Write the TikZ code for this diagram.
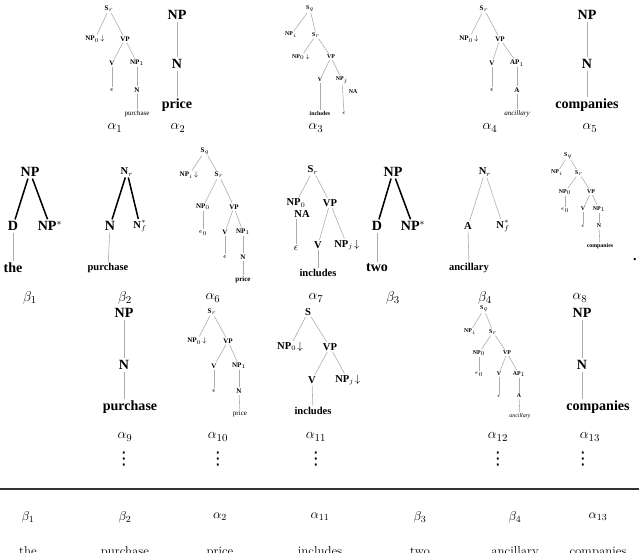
\documentclass[tikz,border=0pt]{standalone}
\usepackage{amsmath, amssymb}
\usepackage{fontspec}
\newfontfamily\tmfont{Liberation Serif}
\newfontfamily\symfont{DejaVu Sans}
\usepackage{tikz}
\usetikzlibrary{positioning, calc}

\begin{document}
\begin{tikzpicture}[
    x=0.03cm, y=-0.03cm,
    big/.style={font=\tmfont\bfseries\fontsize{12}{13}\selectfont, inner sep=1.5pt},
    mid/.style={font=\tmfont\bfseries\fontsize{9}{10}\selectfont, inner sep=1pt},
    sml/.style={font=\tmfont\bfseries\fontsize{6}{7}\selectfont, inner sep=1pt},
    tny/.style={font=\tmfont\bfseries\fontsize{5}{6}\selectfont, inner sep=0.8pt},
    smlw/.style={font=\tmfont\fontsize{6}{7}\selectfont, inner sep=1pt},
    tnyw/.style={font=\tmfont\fontsize{5}{6}\selectfont, inner sep=0.8pt},
    tag/.style={font=\fontsize{13}{15}\selectfont, inner sep=1pt},
    more/.style={font=\symfont\fontsize{15}{15}\selectfont, inner sep=0pt},
    low/.style={font=\fontsize{11}{13}\selectfont, inner sep=1pt},
    branch/.style={draw=gray!65, line width=0.5pt},
    stem/.style={draw=black, line width=1.3pt},
    rule/.style={draw=black!80, line width=1.2pt}
  ]
    \useasboundingbox (0,0) rectangle (639,552);
    \clip (0,0) rectangle (639,552);

    % Row 1: alpha_1 .. alpha_5
    \node[sml] (a1s) at (109,9) {S$_r$};
    \node[sml] (a1np) at (95,39) {NP$_0\!\downarrow$};
    \node[sml] (a1vp) at (125,39) {VP};
    \node[sml] (a1v) at (112,63) {V};
    \node[sml] (a1np1) at (137,63) {NP$_1$};
    \node[smlw] (a1e) at (112,90) {$\epsilon$};
    \node[sml] (a1n) at (137,90) {N};
    \node[smlw] (a1w) at (137,114) {purchase};
    \node[tag] (a1t) at (115,128) {$\alpha_1$};

    \node[big] (a2np) at (177,15) {NP};
    \node[big] (a2n) at (177,64) {N};
    \node[big] (a2w) at (177,105) {price};
    \node[tag] (a2t) at (178,128) {$\alpha_2$};

    \node[tny] (a3s) at (310,9) {S$_q$};
    \node[tny] (a3npi) at (291,35) {NP$_i$};
    \node[tny] (a3sr) at (316,35) {S$_r$};
    \node[tny] (a3np0) at (301,57) {NP$_0\!\downarrow$};
    \node[tny] (a3vp) at (331,57) {VP};
    \node[tny] (a3v) at (320,80) {V};
    \node[tny] (a3npj) at (342,80) {NP$_j$};
    \node[tny] (a3na) at (353,92) {NA};
    \node[tny] (a3w) at (320,113) {includes};
    \node[tnyw] (a3e) at (344,113) {$\epsilon$};
    \node[tag] (a3t) at (316,128) {$\alpha_3$};

    \node[sml] (a4s) at (484,9) {S$_r$};
    \node[sml] (a4np) at (469,39) {NP$_0\!\downarrow$};
    \node[sml] (a4vp) at (500,39) {VP};
    \node[sml] (a4v) at (492,63) {V};
    \node[sml] (a4ap) at (517,63) {AP$_1$};
    \node[smlw] (a4e) at (492,90) {$\epsilon$};
    \node[sml] (a4a) at (517,90) {A};
    \node[smlw] (a4w) at (517,114) {\itshape ancillary};
    \node[tag] (a4t) at (490,128) {$\alpha_4$};

    \node[big] (a5np) at (587,15) {NP};
    \node[big] (a5n) at (587,64) {N};
    \node[big] (a5w) at (587,105) {companies};
    \node[tag] (a5t) at (590,128) {$\alpha_5$};

    % Row 2: beta_1, beta_2, alpha_6, alpha_7, beta_3, beta_4, alpha_8
    \node[big] (b1np) at (30,172) {NP};
    \node[big] (b1d) at (13,226) {D};
    \node[big] (b1f) at (50,226) {NP$^*$};
    \node[big] (b1w) at (13,268) {the};
    \node[tag] (b1t) at (30,298) {$\beta_1$};

    \node[mid] (b2n) at (127,172) {N$_r$};
    \node[big] (b2a) at (110,226) {N};
    \node[mid] (b2f) at (140,226) {N$_f^*$};
    \node[mid] (b2w) at (108,268) {purchase};
    \node[tag] (b2t) at (125,298) {$\beta_2$};

    \node[sml] (a6s) at (205,151) {S$_q$};
    \node[sml] (a6npi) at (189,175) {NP$_i\!\downarrow$};
    \node[sml] (a6sr) at (219,175) {S$_r$};
    \node[sml] (a6np0) at (203,207) {NP$_0$};
    \node[sml] (a6vp) at (234,207) {VP};
    \node[smlw] (a6e0) at (203,233) {$\epsilon_0$};
    \node[sml] (a6v) at (225,232) {V};
    \node[sml] (a6np1) at (243,232) {NP$_1$};
    \node[smlw] (a6e) at (225,257) {$\epsilon$};
    \node[sml] (a6n) at (243,257) {N};
    \node[sml] (a6w) at (243,280) {price};
    \node[tag] (a6t) at (213,298) {$\alpha_6$};

    \node[mid] (a7s) at (313,170) {S$_r$};
    \node[mid] (a7np) at (296,203) {NP$_0$};
    \node[mid] (a7na) at (302,214) {NA};
    \node[mid] (a7vp) at (330,203) {VP};
    \node[font=\fontsize{9}{10}\selectfont, inner sep=1pt] (a7e) at (296,248) {$\epsilon$};
    \node[mid] (a7v) at (318,245) {V};
    \node[mid] (a7npj) at (347,245) {NP$_j\!\downarrow$};
    \node[mid] (a7w) at (318,273) {includes};
    \node[tag] (a7t) at (316,298) {$\alpha_7$};

    \node[big] (b3np) at (393,172) {NP};
    \node[big] (b3d) at (377,226) {D};
    \node[big] (b3f) at (413,226) {NP$^*$};
    \node[big] (b3w) at (377,268) {two};
    \node[tag] (b3t) at (393,298) {$\beta_3$};

    \node[mid] (b4n) at (485,172) {N$_r$};
    \node[mid] (b4a) at (468,226) {A};
    \node[mid] (b4f) at (503,226) {N$_f^*$};
    \node[mid] (b4w) at (469,268) {ancillary};
    \node[tag] (b4t) at (485,298) {$\beta_4$};

    \node[tny] (a8s) at (568,156) {S$_q$};
    \node[tny] (a8npi) at (557,173) {NP$_i$};
    \node[tny] (a8sr) at (579,173) {S$_r$};
    \node[tny] (a8np0) at (565,192) {NP$_0$};
    \node[tny] (a8vp) at (591,192) {VP};
    \node[tnyw] (a8e0) at (565,210) {$\epsilon_0$};
    \node[tny] (a8v) at (583,209) {V};
    \node[tny] (a8np1) at (599,209) {NP$_1$};
    \node[tnyw] (a8e) at (583,226) {$\epsilon$};
    \node[tny] (a8n) at (599,226) {N};
    \node[tny] (a8w) at (600,246) {companies};
    \node[big] (a8dot) at (635,260) {.};
    \node[tag] (a8t) at (580,298) {$\alpha_8$};

    % Row 3: alpha_9 .. alpha_13
    \node[big] (a9np) at (124,313) {NP};
    \node[big] (a9n) at (124,365) {N};
    \node[big] (a9w) at (130,407) {purchase};
    \node[tag] (a9t) at (125,437) {$\alpha_9$};
    \node[more] (a9d) at (124,459) {⋮};

    \node[sml] (a10s) at (212,312) {S$_r$};
    \node[sml] (a10np) at (197,341) {NP$_0\!\downarrow$};
    \node[sml] (a10vp) at (228,341) {VP};
    \node[sml] (a10v) at (214,366) {V};
    \node[sml] (a10np1) at (239,366) {NP$_1$};
    \node[smlw] (a10e) at (214,391) {$\epsilon$};
    \node[sml] (a10n) at (239,391) {N};
    \node[smlw] (a10w) at (240,414) {price};
    \node[tag] (a10t) at (218,437) {$\alpha_{10}$};
    \node[more] (a10d) at (218,459) {⋮};

    \node[mid] (a11s) at (308,312) {S};
    \node[mid] (a11np) at (290,347) {NP$_0\!\downarrow$};
    \node[mid] (a11vp) at (330,347) {VP};
    \node[mid] (a11v) at (312,380) {V};
    \node[mid] (a11npj) at (348,380) {NP$_j\!\downarrow$};
    \node[mid] (a11w) at (313,411) {includes};
    \node[tag] (a11t) at (316,437) {$\alpha_{11}$};
    \node[more] (a11d) at (316,459) {⋮};

    \node[tny] (a12s) at (484,309) {S$_q$};
    \node[tny] (a12npi) at (470,332) {NP$_i$};
    \node[tny] (a12sr) at (493,332) {S$_r$};
    \node[tny] (a12np0) at (479,353) {NP$_0$};
    \node[tny] (a12vp) at (507,353) {VP};
    \node[tnyw] (a12e0) at (479,374) {$\epsilon_0$};
    \node[tny] (a12v) at (499,374) {V};
    \node[tny] (a12ap) at (519,374) {AP$_1$};
    \node[tnyw] (a12e) at (499,396) {$\epsilon$};
    \node[tny] (a12a) at (519,396) {A};
    \node[tnyw] (a12w) at (520,416) {\itshape ancillary};
    \node[tag] (a12t) at (498,437) {$\alpha_{12}$};
    \node[more] (a12d) at (498,459) {⋮};

    \node[big] (a13np) at (582,313) {NP};
    \node[big] (a13n) at (582,365) {N};
    \node[big] (a13w) at (598,407) {companies};
    \node[tag] (a13t) at (590,437) {$\alpha_{13}$};
    \node[more] (a13d) at (583,459) {⋮};

    % Derivation order below the rule
    \coordinate (ruleL) at (0,489);
    \coordinate (ruleR) at (639,489);
    \node[low] (d1) at (28,517) {$\beta_1$};
    \node[low] (d2) at (125,517) {$\beta_2$};
    \node[low] (d3) at (220,517) {$\alpha_2$};
    \node[low] (d4) at (320,517) {$\alpha_{11}$};
    \node[low] (d5) at (420,517) {$\beta_3$};
    \node[low] (d6) at (515,517) {$\beta_4$};
    \node[low] (d7) at (598,517) {$\alpha_{13}$};
    \node[low, anchor=base] (w1) at (28,555) {the};
    \node[low, anchor=base] (w2) at (125,555) {purchase};
    \node[low, anchor=base] (w3) at (220,555) {price};
    \node[low, anchor=base] (w4) at (320,555) {includes};
    \node[low, anchor=base] (w5) at (420,555) {two};
    \node[low, anchor=base] (w6) at (515,555) {ancillary};
    \node[low, anchor=base] (w7) at (598,555) {companies};

    % Branches
    \draw[branch] (a1s) -- (a1np);
    \draw[branch] (a1s) -- (a1vp);
    \draw[branch] (a1vp) -- (a1v);
    \draw[branch] (a1vp) -- (a1np1);
    \draw[branch] (a1v) -- (a1e);
    \draw[branch] (a1np1) -- (a1n);
    \draw[branch] (a1n) -- (a1w);

    \draw[branch] (a2np) -- (a2n);
    \draw[branch] (a2n) -- (a2w);

    \draw[branch] (a3s) -- (a3npi);
    \draw[branch] (a3s) -- (a3sr);
    \draw[branch] (a3sr) -- (a3np0);
    \draw[branch] (a3sr) -- (a3vp);
    \draw[branch] (a3vp) -- (a3v);
    \draw[branch] (a3vp) -- (a3npj);
    \draw[branch] (a3v) -- (a3w);
    \draw[branch] (a3npj) -- (a3e);

    \draw[branch] (a4s) -- (a4np);
    \draw[branch] (a4s) -- (a4vp);
    \draw[branch] (a4vp) -- (a4v);
    \draw[branch] (a4vp) -- (a4ap);
    \draw[branch] (a4v) -- (a4e);
    \draw[branch] (a4ap) -- (a4a);
    \draw[branch] (a4a) -- (a4w);

    \draw[branch] (a5np) -- (a5n);
    \draw[branch] (a5n) -- (a5w);

    \draw[stem] (b1np) -- (b1d);
    \draw[stem] (b1np) -- (b1f);
    \draw[branch] (b1d) -- (b1w);

    \draw[stem] (b2n) -- (b2a);
    \draw[stem] (b2n) -- (b2f);
    \draw[branch] (b2a) -- (b2w);

    \draw[branch] (a6s) -- (a6npi);
    \draw[branch] (a6s) -- (a6sr);
    \draw[branch] (a6sr) -- (a6np0);
    \draw[branch] (a6sr) -- (a6vp);
    \draw[branch] (a6np0) -- (a6e0);
    \draw[branch] (a6vp) -- (a6v);
    \draw[branch] (a6vp) -- (a6np1);
    \draw[branch] (a6v) -- (a6e);
    \draw[branch] (a6np1) -- (a6n);
    \draw[branch] (a6n) -- (a6w);

    \draw[branch] (a7s) -- (a7np);
    \draw[branch] (a7s) -- (a7vp);
    \draw[branch] (a7na.south -| a7e) -- (a7e);
    \draw[branch] (a7vp) -- (a7v);
    \draw[branch] (a7vp) -- (a7npj);
    \draw[branch] (a7v) -- (a7w);

    \draw[stem] (b3np) -- (b3d);
    \draw[stem] (b3np) -- (b3f);
    \draw[branch] (b3d) -- (b3w);

    \draw[branch] (b4n) -- (b4a);
    \draw[branch] (b4n) -- (b4f);
    \draw[branch] (b4a) -- (b4w);

    \draw[branch] (a8s) -- (a8npi);
    \draw[branch] (a8s) -- (a8sr);
    \draw[branch] (a8sr) -- (a8np0);
    \draw[branch] (a8sr) -- (a8vp);
    \draw[branch] (a8np0) -- (a8e0);
    \draw[branch] (a8vp) -- (a8v);
    \draw[branch] (a8vp) -- (a8np1);
    \draw[branch] (a8v) -- (a8e);
    \draw[branch] (a8np1) -- (a8n);
    \draw[branch] (a8n) -- (a8w);

    \draw[branch] (a9np) -- (a9n);
    \draw[branch] (a9n) -- (a9n.south |- a9w.north);

    \draw[branch] (a10s) -- (a10np);
    \draw[branch] (a10s) -- (a10vp);
    \draw[branch] (a10vp) -- (a10v);
    \draw[branch] (a10vp) -- (a10np1);
    \draw[branch] (a10v) -- (a10e);
    \draw[branch] (a10np1) -- (a10n);
    \draw[branch] (a10n) -- (a10w);

    \draw[branch] (a11s) -- (a11np);
    \draw[branch] (a11s) -- (a11vp);
    \draw[branch] (a11vp) -- (a11v);
    \draw[branch] (a11vp) -- (a11npj);
    \draw[branch] (a11v) -- (a11w);

    \draw[branch] (a12s) -- (a12npi);
    \draw[branch] (a12s) -- (a12sr);
    \draw[branch] (a12sr) -- (a12np0);
    \draw[branch] (a12sr) -- (a12vp);
    \draw[branch] (a12np0) -- (a12e0);
    \draw[branch] (a12vp) -- (a12v);
    \draw[branch] (a12vp) -- (a12ap);
    \draw[branch] (a12v) -- (a12e);
    \draw[branch] (a12ap) -- (a12a);
    \draw[branch] (a12a) -- (a12w);

    \draw[branch] (a13np) -- (a13n);
    \draw[branch] (a13n) -- (a13n.south |- a13w.north);

    \draw[rule] (ruleL) -- (ruleR);
  \end{tikzpicture}
\end{document}
